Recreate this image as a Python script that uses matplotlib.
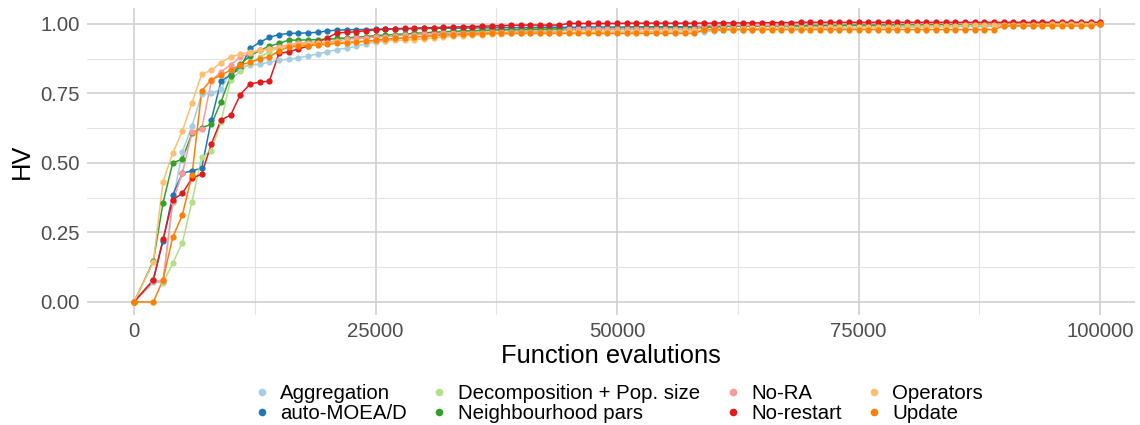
import matplotlib
matplotlib.use("Agg")
import matplotlib.pyplot as plt
from matplotlib.lines import Line2D
from matplotlib.ticker import MultipleLocator, FixedLocator

plt.rcParams['font.family'] = ['Liberation Sans', 'DejaVu Sans']

# function evaluations at which HV was recorded
evals = [0] + list(range(2000, 100001, 1000))

aggregation = [
    0.000, 0.070, 0.070, 0.360, 0.540, 0.633, 0.747, 0.751, 0.765, 0.830,
    0.845, 0.852, 0.856, 0.862, 0.870, 0.873, 0.878, 0.885, 0.892, 0.900,
    0.908, 0.913, 0.920, 0.928, 0.935, 0.940, 0.945, 0.950, 0.953, 0.957,
    0.960, 0.962, 0.963, 0.965, 0.966, 0.967, 0.968, 0.968, 0.969, 0.969,
    0.970, 0.970, 0.970, 0.970, 0.970, 0.970, 0.970, 0.970, 0.970, 0.970,
    0.970, 0.970, 0.970, 0.970, 0.970, 0.970, 0.971, 0.971, 0.972, 0.975,
    0.978, 0.978, 0.980, 0.980, 0.980, 0.981, 0.981, 0.982, 0.982, 0.983,
    0.983, 0.984, 0.984, 0.985, 0.985, 0.986, 0.986, 0.987, 0.987, 0.988,
    0.988, 0.989, 0.989, 0.990, 0.990, 0.990, 0.991, 0.991, 0.992, 0.992,
    0.993, 0.994, 0.994, 0.995, 0.996, 0.996, 0.997, 0.998, 0.999, 1.000,
]
auto_moead = [
    0.000, 0.080, 0.220, 0.385, 0.463, 0.472, 0.481, 0.655, 0.795, 0.817,
    0.840, 0.912, 0.934, 0.952, 0.962, 0.966, 0.967, 0.968, 0.970, 0.975,
    0.978, 0.979, 0.980, 0.980, 0.981, 0.982, 0.982, 0.983, 0.983, 0.984,
    0.984, 0.985, 0.985, 0.985, 0.986, 0.986, 0.986, 0.987, 0.987, 0.987,
    0.987, 0.988, 0.988, 0.988, 0.988, 0.988, 0.989, 0.989, 0.989, 0.989,
    0.989, 0.990, 0.990, 0.990, 0.990, 0.990, 0.990, 0.991, 0.991, 0.991,
    0.991, 0.992, 0.992, 0.992, 0.992, 0.993, 0.993, 0.993, 0.993, 0.994,
    0.994, 0.994, 0.994, 0.995, 0.995, 0.995, 0.995, 0.996, 0.996, 0.996,
    0.996, 0.996, 0.997, 0.997, 0.997, 0.997, 0.998, 0.998, 0.998, 0.998,
    0.999, 0.999, 0.999, 0.999, 1.000, 1.000, 1.000, 1.000, 1.001, 1.001,
]
decomposition = [
    0.000, 0.080, 0.068, 0.139, 0.213, 0.361, 0.520, 0.543, 0.648, 0.800,
    0.830, 0.860, 0.880, 0.900, 0.915, 0.925, 0.930, 0.935, 0.940, 0.945,
    0.948, 0.950, 0.953, 0.955, 0.957, 0.960, 0.962, 0.964, 0.966, 0.968,
    0.970, 0.971, 0.972, 0.973, 0.974, 0.975, 0.975, 0.976, 0.976, 0.977,
    0.977, 0.977, 0.978, 0.978, 0.978, 0.978, 0.978, 0.979, 0.979, 0.979,
    0.979, 0.979, 0.980, 0.980, 0.980, 0.980, 0.981, 0.982, 0.985, 0.990,
    0.992, 0.993, 0.993, 0.993, 0.993, 0.994, 0.994, 0.994, 0.994, 0.994,
    0.995, 0.995, 0.995, 0.995, 0.995, 0.995, 0.995, 0.996, 0.996, 0.996,
    0.996, 0.996, 0.997, 0.997, 0.997, 0.997, 0.998, 0.998, 0.998, 0.998,
    0.999, 0.999, 0.999, 0.999, 1.000, 1.000, 1.000, 1.000, 1.001, 1.001,
]
neighbourhood = [
    0.000, 0.147, 0.357, 0.500, 0.514, 0.607, 0.627, 0.639, 0.720, 0.813,
    0.855, 0.885, 0.905, 0.920, 0.930, 0.942, 0.942, 0.943, 0.944, 0.945,
    0.948, 0.950, 0.952, 0.955, 0.958, 0.960, 0.962, 0.964, 0.966, 0.968,
    0.970, 0.972, 0.974, 0.975, 0.976, 0.977, 0.978, 0.979, 0.980, 0.980,
    0.981, 0.981, 0.982, 0.982, 0.982, 0.983, 0.983, 0.983, 0.984, 0.984,
    0.984, 0.985, 0.985, 0.985, 0.986, 0.986, 0.986, 0.987, 0.988, 0.990,
    0.991, 0.992, 0.992, 0.993, 0.993, 0.993, 0.994, 0.994, 0.994, 0.995,
    0.995, 0.995, 0.995, 0.996, 0.996, 0.996, 0.996, 0.997, 0.997, 0.997,
    0.997, 0.997, 0.998, 0.998, 0.998, 0.998, 0.998, 0.999, 0.999, 0.999,
    0.999, 0.999, 1.000, 1.000, 1.000, 1.000, 1.001, 1.001, 1.001, 1.001,
]
no_ra = [
    0.000, 0.075, 0.075, 0.360, 0.465, 0.610, 0.621, 0.795, 0.828, 0.853,
    0.880, 0.895, 0.905, 0.910, 0.918, 0.925, 0.930, 0.930, 0.932, 0.935,
    0.940, 0.945, 0.948, 0.950, 0.953, 0.955, 0.957, 0.960, 0.962, 0.964,
    0.965, 0.966, 0.967, 0.968, 0.968, 0.969, 0.970, 0.970, 0.971, 0.972,
    0.972, 0.972, 0.972, 0.972, 0.983, 0.983, 0.983, 0.983, 0.983, 0.983,
    0.983, 0.983, 0.983, 0.983, 0.983, 0.983, 0.983, 0.983, 0.995, 0.995,
    0.995, 0.995, 0.995, 0.995, 0.995, 0.995, 0.995, 0.995, 1.004, 1.004,
    1.004, 1.004, 1.004, 1.004, 1.004, 1.004, 1.004, 1.004, 1.004, 1.004,
    1.004, 1.004, 1.004, 1.004, 1.004, 1.004, 1.004, 1.004, 1.004, 1.004,
    1.004, 1.004, 1.004, 1.004, 1.005, 1.005, 1.005, 1.005, 1.005, 1.005,
]
no_restart = [
    0.000, 0.079, 0.225, 0.367, 0.391, 0.445, 0.460, 0.568, 0.655, 0.672,
    0.746, 0.784, 0.791, 0.794, 0.894, 0.900, 0.910, 0.920, 0.935, 0.950,
    0.968, 0.970, 0.972, 0.976, 0.979, 0.981, 0.983, 0.984, 0.985, 0.986,
    0.987, 0.988, 0.989, 0.990, 0.991, 0.992, 0.993, 0.994, 0.995, 0.996,
    0.996, 0.996, 0.996, 0.996, 1.002, 1.002, 1.002, 1.002, 1.002, 1.002,
    1.003, 1.003, 1.003, 1.003, 1.003, 1.003, 1.003, 1.003, 1.003, 1.003,
    1.004, 1.004, 1.004, 1.004, 1.004, 1.005, 1.005, 1.005, 1.006, 1.006,
    1.006, 1.006, 1.006, 1.006, 1.006, 1.006, 1.006, 1.006, 1.006, 1.006,
    1.006, 1.006, 1.006, 1.006, 1.006, 1.006, 1.006, 1.006, 1.006, 1.006,
    1.006, 1.006, 1.006, 1.006, 1.006, 1.006, 1.006, 1.006, 1.006, 1.006,
]
operators = [
    0.000, 0.143, 0.433, 0.535, 0.615, 0.717, 0.819, 0.834, 0.861, 0.882,
    0.891, 0.900, 0.905, 0.910, 0.915, 0.920, 0.925, 0.928, 0.930, 0.932,
    0.934, 0.935, 0.937, 0.938, 0.939, 0.940, 0.941, 0.942, 0.944, 0.946,
    0.950, 0.953, 0.956, 0.958, 0.960, 0.962, 0.964, 0.965, 0.966, 0.967,
    0.968, 0.968, 0.969, 0.969, 0.970, 0.970, 0.971, 0.971, 0.972, 0.972,
    0.972, 0.973, 0.973, 0.974, 0.974, 0.975, 0.975, 0.976, 0.978, 0.980,
    0.982, 0.983, 0.983, 0.984, 0.984, 0.985, 0.985, 0.986, 0.986, 0.987,
    0.987, 0.988, 0.988, 0.989, 0.989, 0.990, 0.990, 0.991, 0.991, 0.992,
    0.992, 0.993, 0.993, 0.994, 0.994, 0.995, 0.995, 0.996, 0.996, 0.997,
    0.997, 0.998, 0.998, 0.998, 0.999, 0.999, 0.999, 1.000, 1.000, 1.000,
]
update = [
    0.000, 0.000, 0.080, 0.233, 0.313, 0.457, 0.759, 0.800, 0.815, 0.835,
    0.853, 0.862, 0.874, 0.882, 0.903, 0.918, 0.920, 0.922, 0.925, 0.927,
    0.930, 0.932, 0.935, 0.938, 0.942, 0.945, 0.948, 0.950, 0.953, 0.955,
    0.958, 0.960, 0.962, 0.963, 0.964, 0.965, 0.966, 0.966, 0.966, 0.966,
    0.966, 0.966, 0.966, 0.966, 0.966, 0.966, 0.966, 0.966, 0.966, 0.966,
    0.966, 0.966, 0.966, 0.966, 0.966, 0.966, 0.966, 0.966, 0.980, 0.980,
    0.980, 0.980, 0.980, 0.980, 0.980, 0.980, 0.980, 0.980, 0.980, 0.980,
    0.980, 0.980, 0.980, 0.980, 0.980, 0.980, 0.980, 0.980, 0.980, 0.980,
    0.980, 0.980, 0.980, 0.980, 0.980, 0.980, 0.980, 0.980, 0.980, 0.993,
    0.993, 0.993, 0.993, 0.993, 0.993, 0.993, 0.993, 0.993, 0.993, 1.000,
]

labels = ["Aggregation", "auto-MOEA/D", "Decomposition + Pop. size",
          "Neighbourhood pars", "No-RA", "No-restart", "Operators", "Update"]
series = [aggregation, auto_moead, decomposition, neighbourhood,
          no_ra, no_restart, operators, update]
# ColorBrewer "Paired"
colors = ["#A6CEE3", "#1F78B4", "#B2DF8A", "#33A02C",
          "#FB9A99", "#E31A1C", "#FDBF6F", "#FF7F00"]

fig = plt.figure(figsize=(11.4, 4.25), dpi=100)
ax = fig.add_axes([0.0763, 0.2588, 0.9193, 0.7224])

# lines first, then all the points on top
for vals, c in zip(series, colors):
    ax.plot(evals, vals, color=c, lw=1.1, zorder=2)
for vals, c in zip(series, colors):
    ax.plot(evals, vals, color=c, ls='none', marker='o', ms=4.5,
            markeredgewidth=0, zorder=3)

ax.set_xlim(-4870, 103600)
ax.set_ylim(-0.047, 1.0576)
ax.xaxis.set_major_locator(MultipleLocator(25000))
ax.xaxis.set_minor_locator(FixedLocator([12500, 37500, 62500, 87500]))
ax.yaxis.set_major_locator(MultipleLocator(0.25))
ax.yaxis.set_minor_locator(FixedLocator([0.125, 0.375, 0.625, 0.875]))
ax.xaxis.set_major_formatter(plt.FuncFormatter(lambda v, p: f"{int(v)}"))
ax.yaxis.set_major_formatter(plt.FuncFormatter(lambda v, p: f"{v:.2f}"))

ax.grid(which='major', color='#CFCFCF', lw=1.2)
ax.grid(which='minor', color='#E3E3E3', lw=0.8)
ax.set_axisbelow(True)
for s in ax.spines.values():
    s.set_visible(False)
ax.tick_params(which='both', length=0, labelsize=14.7, labelcolor='#4D4D4D')
ax.tick_params(axis='x', pad=5)
ax.tick_params(axis='y', pad=5)

ax.set_xlabel("Function evalutions", fontsize=18.4, labelpad=2)
ax.set_ylabel("HV", fontsize=18.4, labelpad=5)

handles = [Line2D([], [], ls='none', marker='o', ms=5.5, color=c,
                  markeredgewidth=0) for c in colors]
fig.legend(handles, labels, ncol=4, loc='lower center',
           bbox_to_anchor=(0.5424, -0.038), frameon=False, fontsize=14.7,
           handlelength=0.8, handletextpad=0.5, columnspacing=1.2,
           labelspacing=0.05)

fig.savefig("out.png", dpi=100)
